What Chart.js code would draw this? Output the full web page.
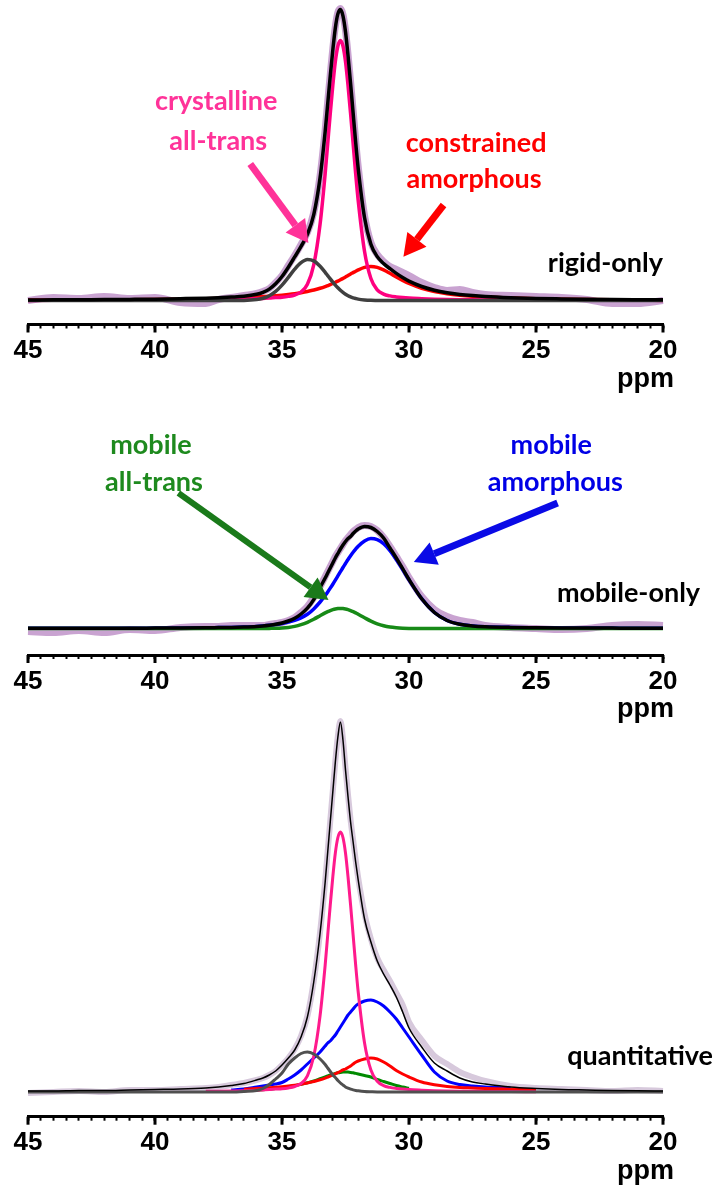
<!DOCTYPE html>
<html>
<head>
<meta charset="utf-8">
<script src="https://cdn.jsdelivr.net/npm/chart.js@4"></script>
<style>
body { margin: 0; background: #fff; width: 714px; height: 1185px; position: relative; overflow: hidden; }
.panneau { position: absolute; left: 0; }
</style>
</head>
<body>
<canvas id="graphique-rigide" class="panneau" width="714" height="395" style="top:0px"></canvas>
<canvas id="graphique-mobile" class="panneau" width="714" height="330" style="top:395px"></canvas>
<canvas id="graphique-quanti" class="panneau" width="714" height="470" style="top:715px"></canvas>
<script>
// chemical shift grid (ppm), shared by every trace
const ppm = [
    45, 44, 43, 42, 41, 40, 39, 38,
    37.5, 37, 36.5, 36, 35.75, 35.5, 35.25, 35,
    34.75, 34.5, 34.25, 34, 33.75, 33.5, 33.3, 33.2,
    33.1, 33.0, 32.9, 32.8, 32.7, 32.6, 32.5, 32.4,
    32.3, 32.2, 32.1, 32.0, 31.75, 31.5, 31.25, 31,
    30.75, 30.5, 30.25, 30, 29.5, 29, 28.5, 28,
    27.5, 27, 26, 25, 24, 23, 22, 21, 20
];
const majorTicks = [45, 40, 35, 30, 25, 20];

// rigid-only
const rigidExp = [
    0, 3, 2, 4, 2, 3, -2, -3,
    1, 3, 5, 7, 9, 12, 18, 25,
    35, 45, 56, 68, 88, 125, 171, 199,
    226, 252, 274, 288, 292, 286, 270, 246,
    219, 190, 160, 134, 85, 58, 46, 39,
    34, 31, 28, 25, 18, 13, 10, 11,
    8, 6, 5, 4, 3, 1, -3, -3, 0
];
const rigidFit = [
    0.5, 0.65, 0.8, 0.9, 1.1, 1.35, 1.8, 2.35,
    2.8, 3.4, 4.2, 6.2, 8.2, 11.4, 16.7, 24,
    33.3, 43.6, 54.1, 66.2, 85.8, 122.9, 169.1, 196.8,
    224.5, 250.4, 272.6, 286.6, 290.9, 284.7, 268.8, 244.8,
    217.1, 187.6, 158.3, 132, 82.7, 56.2, 43.9, 37,
    31.8, 27.1, 23, 19.4, 14, 10.3, 7.8, 6.1,
    4.9, 4.0, 2.8, 2.0, 1.55, 1.2, 0.97, 0.85, 0.72
];
const rigidCristal = [
    0.1, 0.15, 0.2, 0.2, 0.3, 0.35, 0.5, 0.65,
    0.8, 1.0, 1.3, 1.8, 2.1, 2.4, 2.9, 3.3,
    4.1, 5.5, 8.5, 16.2, 35.7, 76.5, 127, 157,
    187, 215, 239, 254.5, 260, 254.5, 239, 215,
    187, 157, 127, 100, 49, 22, 10.7, 6.4,
    4.6, 3.6, 2.9, 2.4, 1.8, 1.3, 1.0, 0.8,
    0.7, 0.6, 0.4, 0.3, 0.25, 0.2, 0.17, 0.15, 0.12
];
const rigidGauche = [
    0, 0, 0, 0, 0, 0, 0, 0,
    0, 0, 0.1, 1.0, 2.3, 4.8, 9.1, 15.4,
    23.2, 31.3, 37.8, 41, 39.6, 34.2, 28.2, 24.9,
    21.6, 18.4, 15.4, 12.7, 10.2, 8.1, 6.3, 4.8,
    3.6, 2.7, 2.0, 1.4, 0.6, 0.2, 0.1, 0,
    0, 0, 0, 0, 0, 0, 0, 0,
    0, 0, 0, 0, 0, 0, 0, 0, 0
];
const rigidAmorphe = [
    0.4, 0.5, 0.6, 0.7, 0.8, 1.0, 1.3, 1.7,
    2.0, 2.4, 2.8, 3.4, 3.8, 4.2, 4.7, 5.3,
    6.0, 6.8, 7.8, 9.0, 10.5, 12.2, 13.9, 14.9,
    15.9, 17.0, 18.2, 19.4, 20.7, 22.1, 23.5, 25.0,
    26.5, 27.9, 29.3, 30.6, 33.1, 34.0, 33.1, 30.6,
    27.2, 23.5, 20.1, 17.0, 12.2, 9.0, 6.8, 5.3,
    4.2, 3.4, 2.4, 1.7, 1.3, 1.0, 0.8, 0.7, 0.6
];

// mobile-only
const mobileExp = [
    -3, -4, -2, -4, -1, -2, 1, 2,
    2, 3, 3, 3, 3, 4, 5, 6,
    8, 11, 16, 22, 31, 42, 52, 57,
    62, 67, 72, 76, 80, 84, 88, 91,
    94, 97, 99, 101, 103, 102, 98, 91,
    82, 72, 62, 51, 32, 19, 12, 8,
    6, 3, 1, 0, -1, 0, 3, 4, 3
];
const mobileFit = [
    0.2, 0.2, 0.3, 0.3, 0.3, 0.4, 0.5, 0.7,
    0.9, 1.1, 1.5, 2.1, 2.6, 3.3, 4.2, 5.5,
    7.5, 10.3, 14.5, 20.4, 28.9, 41, 50.5, 55.5,
    60.5, 65.5, 70.5, 75, 79.5, 83.5, 87, 90,
    92, 95, 97.5, 99.5, 102, 101, 97, 90.5,
    80.5, 70.5, 59.8, 49, 29.8, 16, 8, 4.2,
    2.6, 1.8, 1.1, 0.8, 0.6, 0.5, 0.4, 0.3, 0.3
];
const mobileTrans = [
    0, 0, 0, 0, 0, 0, 0, 0,
    0, 0, 0, 0, 0, 0.1, 0.2, 0.5,
    1.1, 2.1, 3.8, 6.2, 9.3, 12.8, 15.6, 16.8,
    17.9, 18.8, 19.5, 19.9, 20, 19.9, 19.5, 18.8,
    17.9, 16.8, 15.6, 14.2, 10.7, 7.4, 4.7, 2.7,
    1.4, 0.7, 0.3, 0.1, 0, 0, 0, 0,
    0, 0, 0, 0, 0, 0, 0, 0, 0
];
const mobileAmorphe = [
    0.2, 0.2, 0.3, 0.3, 0.3, 0.4, 0.5, 0.7,
    0.9, 1.1, 1.5, 2.1, 2.6, 3.2, 4.0, 5.0,
    6.4, 8.2, 10.7, 14.2, 19.6, 26.5, 33, 36.6,
    40.4, 44.3, 48.4, 52.6, 56.8, 61, 65, 69,
    72.7, 76.2, 79.4, 82.3, 87.6, 90, 88.9, 84.8,
    77.9, 69, 59, 48.6, 29.8, 16, 8, 4.2,
    2.6, 1.8, 1.1, 0.8, 0.6, 0.5, 0.4, 0.3, 0.3
];

// quantitative
const quantiExp = [
    -1, 0, 1, 0, 2, 2, 3, 4,
    5, 7, 9, 12, 14, 17, 21, 27,
    34, 43, 56, 76, 111, 160, 211, 241,
    271, 301, 331, 356, 371, 353, 324, 297,
    272, 252, 232, 214, 178, 153, 134, 122,
    111, 99, 87, 70, 52, 36, 28, 20,
    15, 11, 6, 4, 3, 2, 1, 2, 1
];
const quantiFit = [
    1, 1, 1.5, 1.5, 2, 2.5, 3, 4,
    5, 6.5, 8.5, 12, 14, 17, 21, 27,
    34, 42, 55, 75, 110, 159, 210, 240,
    270, 300, 330, 355, 370, 352, 322, 295,
    270, 250, 230, 212, 173, 150, 131, 118,
    107, 95, 80, 64, 45, 29, 21, 14,
    10, 8, 5, 3.5, 2.5, 2, 1.5, 1.2, 1
];
const quantiCristal = [
    null, null, null, null, null, null, null, 0.65,
    0.8, 1.0, 1.3, 1.8, 2.1, 2.4, 2.9, 3.3,
    4.1, 5.5, 8.5, 16.2, 35.7, 76.5, 127, 157,
    187, 215, 239, 254.5, 260, 254.5, 239, 215,
    187, 157, 127, 100, 49, 22, 10.7, 6.4,
    4.6, 3.6, 2.9, 2.4, 1.8, 1.3, 1.0, 0.8,
    0.7, 0.6, 0.4, 0.3, null, null, null, null, null
];
const quantiGauche = [
    0, 0, 0, 0, 0, 0, 0, 0,
    0, 0, 0.5, 1.5, 3.5, 7.5, 13, 19,
    28, 34, 38.5, 40, 38, 33, 27.5, 24,
    20.5, 17, 14.5, 11.5, 9, 7, 5, 3.8,
    2.8, 2.1, 1.6, 1.2, 0.5, 0.2, 0, 0,
    0, 0, 0, 0, 0, 0, 0, 0,
    0, 0, 0, 0, 0, 0, 0, 0, 0
];
const quantiContraint = [
    null, null, null, null, null, null, null, null,
    null, null, 2.8, 3.4, 3.8, 4.2, 4.7, 5.3,
    6.0, 6.8, 7.8, 9.0, 10.5, 12.2, 13.9, 14.9,
    15.9, 17.0, 18.2, 19.4, 20.7, 22.1, 23.0, 24.5,
    26, 28, 29.8, 31, 33, 34, 33, 30,
    26, 21.5, 18, 15, 10, 7.2, 5.5, 4.5,
    4, 3.5, 2.8, 2.2, null, null, null, null, null
];
const quantiAmorphe = [
    null, null, null, null, null, null, null, null,
    null, 2, 3, 5, 6, 7, 8, 9.5,
    13, 17, 22, 28, 34, 40, 46, 49,
    51, 54, 57, 61, 65, 69, 73, 77,
    80, 83, 86, 88, 91, 92, 90, 86,
    80, 73, 64, 55, 37, 20, 11, 7.5,
    6, 5, 4, null, null, null, null, null, null
];
const quantiTrans = [
    null, null, null, null, null, null, null, null,
    null, null, 1.2, 1.8, 2.2, 2.8, 3.5, 4.3,
    5.2, 6.2, 7.6, 9.2, 11, 13.3, 15.2, 16.1,
    17, 17.9, 18.6, 19.2, 19.6, 19.9, 20, 19.9,
    19.6, 19.2, 18.6, 18, 16.5, 15, 12.5, 10.5,
    8.5, 6.5, 5, 3.7, null, null, null, null,
    null, null, null, null, null, null, null, null, null
];

const policeTexte = 'bold 27px Lato, "Open Sans", sans-serif';
const policeAxe = { family: '"Liberation Sans", Arial, sans-serif', size: 26, weight: 'bold' };

function dessinerFleche(ctx, x1, y1, x2, y2, couleur, epaisseur, tete) {
    const angle = Math.atan2(y2 - y1, x2 - x1);
    const bx = x2 - tete * Math.cos(angle);
    const by = y2 - tete * Math.sin(angle);
    ctx.strokeStyle = couleur;
    ctx.lineWidth = epaisseur;
    ctx.lineCap = 'butt';
    ctx.beginPath();
    ctx.moveTo(x1, y1);
    ctx.lineTo(bx, by);
    ctx.stroke();
    ctx.fillStyle = couleur;
    ctx.beginPath();
    ctx.moveTo(x2, y2);
    ctx.lineTo(bx + tete * 0.55 * Math.sin(angle), by - tete * 0.55 * Math.cos(angle));
    ctx.lineTo(bx - tete * 0.55 * Math.sin(angle), by + tete * 0.55 * Math.cos(angle));
    ctx.closePath();
    ctx.fill();
}

const notesPlugin = {
    id: 'notes',
    afterDraw(chart, args, opts) {
        const ctx = chart.ctx;
        const x = chart.scales.x;
        const y = chart.scales.y;
        const bas = chart.chartArea.bottom;
        ctx.save();
        // longer major ticks
        ctx.strokeStyle = '#000';
        ctx.lineWidth = 3;
        for (const v of majorTicks) {
            const px = Math.round(x.getPixelForValue(v));
            ctx.beginPath();
            ctx.moveTo(px, bas);
            ctx.lineTo(px, bas + 8);
            ctx.stroke();
        }
        ctx.font = 'bold 27px "Liberation Sans", Arial, sans-serif';
        ctx.fillStyle = '#000';
        ctx.textAlign = 'right';
        ctx.textBaseline = 'alphabetic';
        ctx.fillText('ppm', x.getPixelForValue(20) + 11, bas + 62);

        for (const f of opts.fleches || []) {
            dessinerFleche(ctx,
                x.getPixelForValue(f.de[0]), y.getPixelForValue(f.de[1]),
                x.getPixelForValue(f.a[0]), y.getPixelForValue(f.a[1]),
                f.couleur, f.epaisseur, f.tete);
        }
        ctx.font = policeTexte;
        for (const t of opts.textes || []) {
            ctx.fillStyle = t.couleur;
            ctx.textAlign = t.align || 'center';
            ctx.fillText(t.texte, x.getPixelForValue(t.x), y.getPixelForValue(t.y));
        }
        ctx.restore();
    }
};

function serie(valeurs, couleur, epaisseur, ordre) {
    return {
        data: ppm.map((p, i) => ({ x: p, y: valeurs[i] })),
        borderColor: couleur,
        borderWidth: epaisseur,
        pointRadius: 0,
        fill: false,
        cubicInterpolationMode: 'monotone',
        order: ordre,
        clip: false,
    };
}

function creerSpectre(selecteur, panneau, datasets, notes) {
    const zone = panneau.axe - panneau.haut;
    const config = {
        type: 'line',
        data: { datasets: datasets },
        options: {
            responsive: false,
            animation: false,
            events: [],
            layout: { padding: { left: 28, right: 51, top: 0, bottom: 0 } },
            plugins: { legend: { display: false }, tooltip: { enabled: false }, notes: notes },
            scales: {
                x: {
                    type: 'linear',
                    reverse: true,
                    min: 20,
                    max: 45,
                    border: { display: true, color: '#000', width: 3 },
                    grid: { drawOnChartArea: false, drawTicks: true, tickLength: 4, tickWidth: 2, tickColor: '#000' },
                    ticks: {
                        stepSize: 0.5,
                        autoSkip: false,
                        maxRotation: 0,
                        padding: 7,
                        color: '#000',
                        font: policeAxe,
                        callback: (v) => (v % 5 === 0 ? String(v) : ''),
                    },
                    afterFit: (scale) => { scale.height = panneau.hauteur - zone; },
                },
                y: {
                    display: false,
                    min: -(panneau.axe - panneau.base),
                    max: panneau.base - panneau.haut,
                },
            },
        },
        plugins: [notesPlugin],
    };
    new Chart(document.querySelector(selecteur), config);
}

creerSpectre('#graphique-rigide',
    { haut: 0, hauteur: 395, axe: 324.5, base: 300.5 },
    [
        serie(rigidFit, '#000000', 3.5, 0),
        serie(rigidGauche, '#404040', 3.5, 1),
        serie(rigidCristal, '#ff0080', 3.5, 2),
        serie(rigidAmorphe, '#ff0000', 3.5, 3),
        serie(rigidExp, '#c9a3d1', 7, 9),
    ],
    {
        textes: [
            { texte: 'crystalline', x: 37.59, y: 191, couleur: '#ff3399' },
            { texte: 'all-trans', x: 37.51, y: 150.5, couleur: '#ff3399' },
            { texte: 'constrained', x: 27.36, y: 148.8, couleur: '#ff0000' },
            { texte: 'amorphous', x: 27.44, y: 112.2, couleur: '#ff0000' },
            { texte: 'rigid-only', x: 20, y: 28.8, couleur: '#000000', align: 'right' },
        ],
        fleches: [
            { de: [36.25, 136.5], a: [33.96, 57.5], couleur: '#ff3399', epaisseur: 7, tete: 22 },
            { de: [28.64, 95.5], a: [30.22, 43.8], couleur: '#ff0000', epaisseur: 7, tete: 22 },
        ],
    });

creerSpectre('#graphique-mobile',
    { haut: 395, hauteur: 330, axe: 655, base: 628.5 },
    [
        serie(mobileFit, '#000000', 3.5, 0),
        serie(mobileTrans, '#178a17', 3.5, 1),
        serie(mobileAmorphe, '#0000ff', 3.5, 2),
        serie(mobileExp, '#c9a3d1', 7, 9),
    ],
    {
        textes: [
            { texte: 'mobile', x: 40.16, y: 174.5, couleur: '#1e8a1e' },
            { texte: 'all-trans', x: 40.04, y: 137.8, couleur: '#1e8a1e' },
            { texte: 'mobile', x: 24.4, y: 174.5, couleur: '#0000e6' },
            { texte: 'amorphous', x: 24.24, y: 137.8, couleur: '#0000e6' },
            { texte: 'mobile-only', x: 18.54, y: 26.8, couleur: '#000000', align: 'right' },
        ],
        fleches: [
            { de: [39.08, 135.5], a: [33.17, 28.5], couleur: '#1a7a1a', epaisseur: 6, tete: 22 },
            { de: [24.15, 125.5], a: [29.81, 66.5], couleur: '#0a0ae6', epaisseur: 7, tete: 22 },
        ],
    });

creerSpectre('#graphique-quanti',
    { haut: 715, hauteur: 470, axe: 1116.7, base: 1092 },
    [
        serie(quantiFit, '#000000', 1.5, 0),
        serie(quantiGauche, '#505050', 3, 1),
        serie(quantiContraint, '#ff0000', 3, 3),
        serie(quantiTrans, '#008a00', 3, 4),
        serie(quantiAmorphe, '#0000ff', 3, 5),
        serie(quantiCristal, '#ff1a8c', 3, 2),
        serie(quantiExp, '#d7c9dc', 6, 9),
    ],
    {
        textes: [
            { texte: 'quantitative', x: 18.03, y: 27, couleur: '#000000', align: 'right' },
        ],
        fleches: [],
    });
</script>
</body>
</html>
